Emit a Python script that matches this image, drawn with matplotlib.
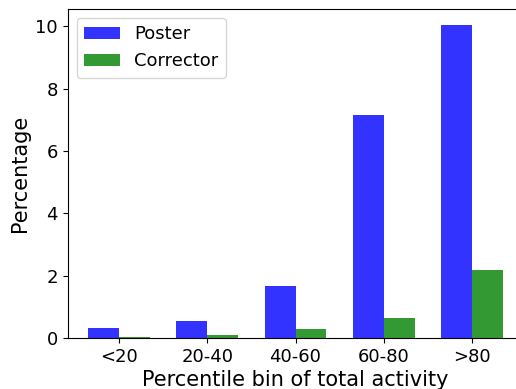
import numpy as np
import matplotlib
matplotlib.use('Agg')
import matplotlib.pyplot as plt

bins = ['<20', '20-40', '40-60', '60-80', '>80']
poster = [0.32, 0.55, 1.67, 7.15, 10.05]
corrector = [0.03, 0.10, 0.29, 0.64, 2.18]

plt.rc('font', size=13)

fig = plt.figure(figsize=(5.16, 3.89), dpi=100)
ax = fig.add_axes([67.5 / 516, 51 / 389, 456 / 516, 329 / 389])

x = np.arange(len(bins))
width = 0.35
ax.bar(x - width / 2, poster, width, color='b', alpha=0.8, label='Poster')
ax.bar(x + width / 2, corrector, width, color='g', alpha=0.8, label='Corrector')

ax.set_xticks(x)
ax.set_xticklabels(bins)
ax.set_xlabel('Percentile bin of total activity', fontsize=15, labelpad=3)
ax.set_ylabel('Percentage', fontsize=15)
ax.legend(loc='upper left')

fig.savefig('out.png', dpi=100)
